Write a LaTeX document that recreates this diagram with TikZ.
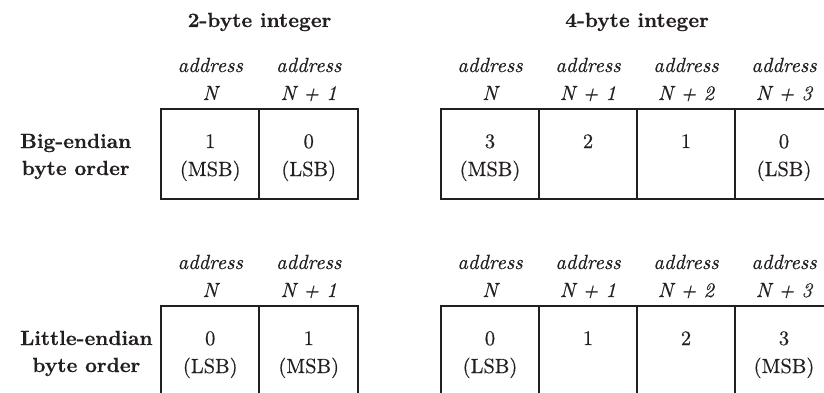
\documentclass[tikz,border=0pt]{standalone}
\usepackage{fontspec}
\newfontfamily\cellfont{lmroman10-regular.otf}[FakeBold=0.5, ItalicFont=lmroman10-italic.otf, ItalicFeatures={FakeBold=0.5}]
\newfontfamily\headfont{lmroman10-bold.otf}[FakeBold=0.3]
\definecolor{ink}{HTML}{231F20}
\tikzset{
  lbl/.style={inner sep=0pt, text=ink, font=\fontsize{20.5}{24}\cellfont},
  ttl/.style={inner sep=0pt, text=ink, font=\fontsize{20.5}{24}\headfont},
  adr/.style={inner sep=0pt, text=ink, font=\fontsize{20.5}{24}\cellfont\itshape},
  outerline/.style={draw=ink, line width=2.4pt},
  innerline/.style={draw=ink, line width=1.5pt},
}
\begin{document}
\begin{tikzpicture}[x=1pt,y=-1pt]
\path[use as bounding box] (0,0) rectangle (824,393);
\clip (0,0) rectangle (824,393);

% titles
\node[ttl, anchor=base] (t2) at (259.5,27) {2-byte integer};
\node[ttl, anchor=base] (t4) at (637,27) {4-byte integer};

\foreach \r/\off in {b/0, l/197} {
  % address labels, 2-byte
  \foreach \n/\x/\s in {0/210.25/{N}, 1/308.75/{N + 1}} {
    \node[adr, anchor=base] (a2\r\n) at (\x,72+\off) {address};
    \node[adr, anchor=base] (n2\r\n) at (\x,100+\off) {\s};
  }
  % address labels, 4-byte
  \foreach \n/\x/\s in {0/490/{N}, 1/588/{N + 1}, 2/686/{N + 2}, 3/784/{N + 3}} {
    \node[adr, anchor=base] (a4\r\n) at (\x,72+\off) {address};
    \node[adr, anchor=base] (n4\r\n) at (\x,100+\off) {\s};
  }
  % boxes
  \coordinate (p2\r) at (161,109+\off);
  \coordinate (q2\r) at (358,199+\off);
  \coordinate (p4\r) at (441,109+\off);
  \coordinate (q4\r) at (833,199+\off);
  \draw[innerline] (259,109+\off) -- (259,199+\off);
  \foreach \x in {539,637,735} \draw[innerline] (\x,109+\off) -- (\x,199+\off);
  \draw[outerline] (p2\r) rectangle (q2\r);
  \draw[outerline] (p4\r) rectangle (q4\r);
}

% row labels
\node[ttl, anchor=base west] (rb1) at (20,148) {Big-endian};
\node[ttl, anchor=base] (rb2) at (rb1.center |- 0,175) {byte order};
\node[ttl, anchor=base west] (rl1) at (20,345) {Little-endian};
\node[ttl, anchor=base] (rl2) at (rl1.center |- 0,372) {byte order};

% big-endian contents
\node[lbl, anchor=base] (cb20) at (210.25,148) {1};
\node[lbl, anchor=base] (cb20p) at (210.25,176) {(MSB)};
\node[lbl, anchor=base] (cb21) at (308.75,148) {0};
\node[lbl, anchor=base] (cb21p) at (308.75,176) {(LSB)};
\node[lbl, anchor=base] (cb40) at (490,148) {3};
\node[lbl, anchor=base] (cb40p) at (490,176) {(MSB)};
\node[lbl, anchor=base] (cb41) at (588,148) {2};
\node[lbl, anchor=base] (cb42) at (686,148) {1};
\node[lbl, anchor=base] (cb43) at (784,148) {0};
\node[lbl, anchor=base] (cb43p) at (784,176) {(LSB)};

% little-endian contents
\node[lbl, anchor=base] (cl20) at (210.25,345) {0};
\node[lbl, anchor=base] (cl20p) at (210.25,373) {(LSB)};
\node[lbl, anchor=base] (cl21) at (308.75,345) {1};
\node[lbl, anchor=base] (cl21p) at (308.75,373) {(MSB)};
\node[lbl, anchor=base] (cl40) at (490,345) {0};
\node[lbl, anchor=base] (cl40p) at (490,373) {(LSB)};
\node[lbl, anchor=base] (cl41) at (588,345) {1};
\node[lbl, anchor=base] (cl42) at (686,345) {2};
\node[lbl, anchor=base] (cl43) at (784,345) {3};
\node[lbl, anchor=base] (cl43p) at (784,373) {(MSB)};
\end{tikzpicture}
\end{document}
